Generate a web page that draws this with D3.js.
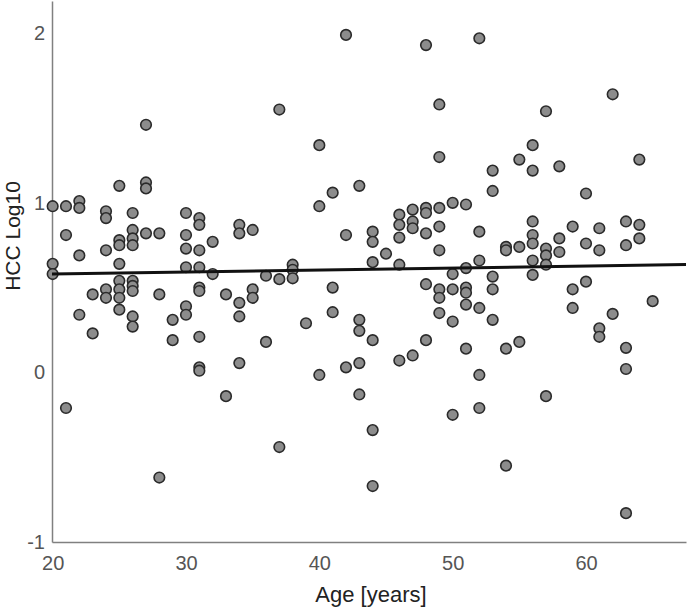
<!DOCTYPE html>
<html>
<head>
<meta charset="utf-8">
<script src="https://cdn.jsdelivr.net/npm/d3@7"></script>
<style>
  body { margin: 0; background: #fff; }
  svg text { font-family: "Liberation Sans", Arial, sans-serif; }
</style>
</head>
<body>
<svg id="svg1"></svg>
<script>
var W = 688, H = 611;

// age of each subject and its HCC value (log10)
var age = [
  20,20,20, 21,21,21, 22,22,22,22, 23,23, 24,24,24,24,24,
  25,25,25,25,25,25,25,25, 26,26,26,26,26,26,26,26,26, 27,27,27,27,
  28,28,28, 29,29, 30,30,30,30,30,30, 31,31,31,31,31,31,31,31,31,
  32,32, 33,33, 34,34,34,34,34, 35,35,35, 36,36, 37,37,37, 38,38,38, 39,
  40,40,40, 41,41,41, 42,42,42, 43,43,43,43,43, 44,44,44,44,44,44, 45,
  46,46,46,46,46, 47,47,47,47, 48,48,48,48,48,48, 49,49,49,49,49,49,49,49,
  50,50,50,50,50, 51,51,51,51,51,51, 52,52,52,52,52,52, 53,53,53,53,53,
  54,54,54,54, 55,55,55, 56,56,56,56,56,56,56, 57,57,57,57,57, 58,58,58,
  59,59,59, 60,60,60, 61,61,61,61, 62,62, 63,63,63,63,63, 64,64,64, 65
];
var hcc = [
  0.98,0.64,0.58, 0.98,0.81,-0.21, 1.01,0.97,0.69,0.34, 0.46,0.23, 0.95,0.91,0.72,0.49,0.44,
  1.10,0.78,0.75,0.64,0.54,0.49,0.44,0.37, 0.94,0.84,0.79,0.75,0.54,0.51,0.48,0.33,0.27, 1.46,1.12,1.085,0.82,
  0.82,0.46,-0.62, 0.31,0.19, 0.94,0.81,0.73,0.62,0.39,0.34, 0.91,0.87,0.72,0.62,0.50,0.48,0.21,0.03,0.01,
  0.77,0.58, 0.46,-0.14, 0.87,0.82,0.41,0.33,0.055, 0.84,0.49,0.44, 0.57,0.18, 1.55,0.55,-0.44, 0.635,0.605,0.555, 0.29,
  1.34,0.98,-0.015, 1.06,0.50,0.355, 1.99,0.81,0.03, 1.10,0.31,0.245,0.055,-0.13, 0.83,0.77,0.65,0.19,-0.34,-0.67, 0.70,
  0.93,0.87,0.795,0.635,0.07, 0.96,0.89,0.85,0.10, 1.93,0.97,0.94,0.82,0.52,0.19, 1.58,1.27,0.97,0.86,0.72,0.49,0.44,0.35,
  1.00,0.58,0.49,0.30,-0.25, 0.99,0.615,0.50,0.47,0.40,0.14, 1.97,0.83,0.66,0.38,-0.015,-0.21, 1.19,1.07,0.565,0.49,0.31,
  0.74,0.72,0.14,-0.55, 1.255,0.74,0.18, 1.34,1.19,0.89,0.81,0.76,0.66,0.575, 1.54,0.73,0.69,0.635,-0.14, 1.215,0.79,0.71,
  0.86,0.49,0.38, 1.055,0.76,0.535, 0.85,0.72,0.26,0.21, 1.64,0.345, 0.89,0.75,0.145,0.02,-0.83, 1.255,0.87,0.79, 0.42
];

var xTicks = [20, 30, 40, 50, 60];
var yTicks = [-1, 0, 1, 2];

// fitted line, value at both ends of the age axis
var fitAge = [19.95, 67.5];
var fitHcc = [0.58, 0.636];

window.onload = function(){
  var svg1 = d3.select('#svg1').attr('width', W).attr('height', H);

  var x = d3.scaleLinear().domain([19.95, 67.5]).range([52, 686]);
  var y = d3.scaleLinear().domain([-1, 2.19]).range([542, 1]);

  var mydata = age.map(function(a, i){ return {age: a, hcc: hcc[i]}; });

  // axes, plain labels (hyphen minus, no decimals)
  var fmt = function(d){ return String(d); };
  var gx = svg1.append('g').attr('transform', 'translate(0,542)')
    .call(d3.axisBottom(x).tickValues(xTicks).tickFormat(fmt).tickSize(0).tickPadding(14));
  var gy = svg1.append('g').attr('transform', 'translate(52,0)')
    .call(d3.axisLeft(y).tickValues(yTicks).tickFormat(fmt).tickSize(0).tickPadding(7));

  [gx, gy].forEach(function(g){
    g.select('.domain').attr('stroke', '#808080').attr('stroke-width', 1.5);
    g.selectAll('text').attr('fill', '#555').style('font-size', '20px')
      .style('font-family', '"Liberation Sans", Arial, sans-serif');
  });

  // points
  svg1.append('g').selectAll('circle')
    .data(mydata)
    .enter()
    .append('circle')
    .attr('cx', function(d){ return x(d.age); })
    .attr('cy', function(d){ return y(d.hcc); })
    .attr('r', 5.3)
    .attr('fill', '#8c8c8c')
    .attr('stroke', '#2a2a2a')
    .attr('stroke-width', 1.6);

  // fit line
  svg1.append('line')
    .attr('x1', x(fitAge[0])).attr('y1', y(fitHcc[0]))
    .attr('x2', x(fitAge[1])).attr('y2', y(fitHcc[1]))
    .attr('stroke', '#111').attr('stroke-width', 3);

  // titles
  svg1.append('text')
    .attr('x', 371).attr('y', 602)
    .attr('text-anchor', 'middle')
    .attr('fill', '#222')
    .style('font-size', '22px')
    .text('Age [years]');

  svg1.append('text')
    .attr('transform', 'translate(19.5,236) rotate(-90)')
    .attr('text-anchor', 'middle')
    .attr('fill', '#222')
    .style('font-size', '21px')
    .text('HCC Log10');
};
</script>
</body>
</html>
